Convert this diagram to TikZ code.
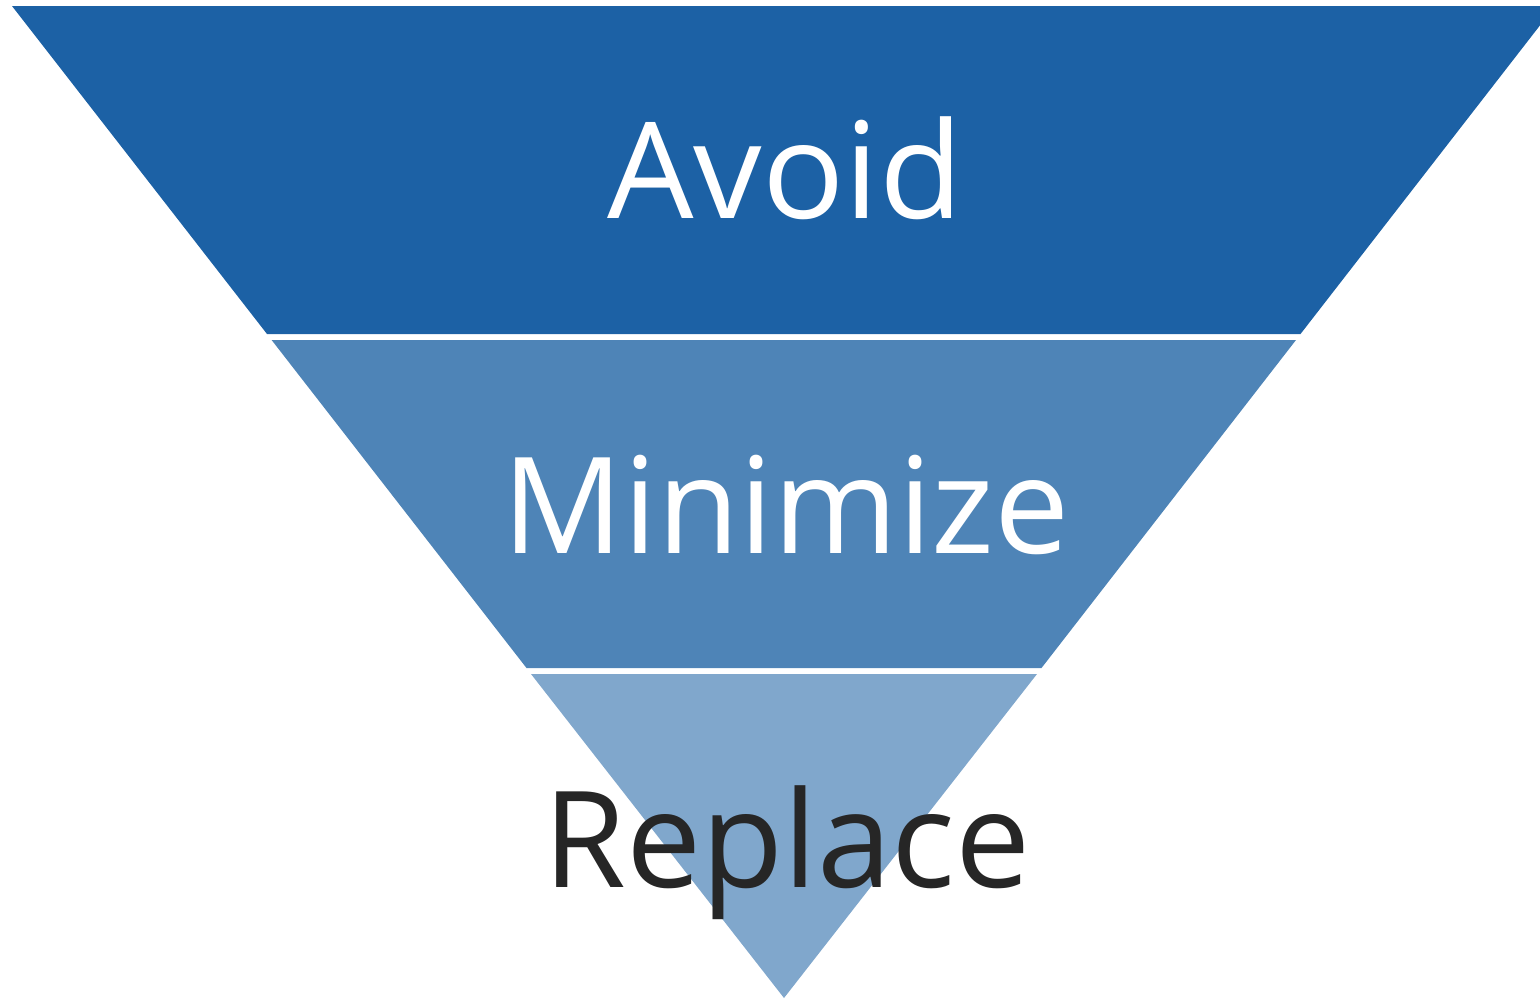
\documentclass[tikz,border=0pt]{standalone}
\usepackage{fontspec}
\setmainfont{Open Sans}
\definecolor{bandA}{HTML}{1C61A5}
\definecolor{bandB}{HTML}{4E84B7}
\definecolor{bandC}{HTML}{80A7CC}
\definecolor{txtdark}{HTML}{262626}
\tikzset{
  band/.style={draw=none},
  label/.style={font=\fontsize{134}{140}\selectfont, anchor=base, inner sep=0pt}
}
\begin{document}
\begin{tikzpicture}[x=1pt,y=-1pt]
\useasboundingbox (0,0) rectangle (1540,999);
\begin{scope}
\clip (0,0) rectangle (1540,999);
\fill[bandA] (12,6) -- (1555,6) -- (1300.5,334) -- (267,334) -- cycle;
\fill[bandB] (271.6,340) -- (1296,340) -- (1041.5,668) -- (526.5,668) -- cycle;
\fill[bandC] (531,674) -- (1037,674) -- (784,998) -- cycle;
\end{scope}
\node[label, text=white, xscale=1.02] (avoid) at (785,218) {Avoid};
\node[label, text=white] (minimize) at (786,553) {Minimize};
\node[label, text=txtdark] (replace) at (787,887) {Replace};
\end{tikzpicture}
\end{document}
